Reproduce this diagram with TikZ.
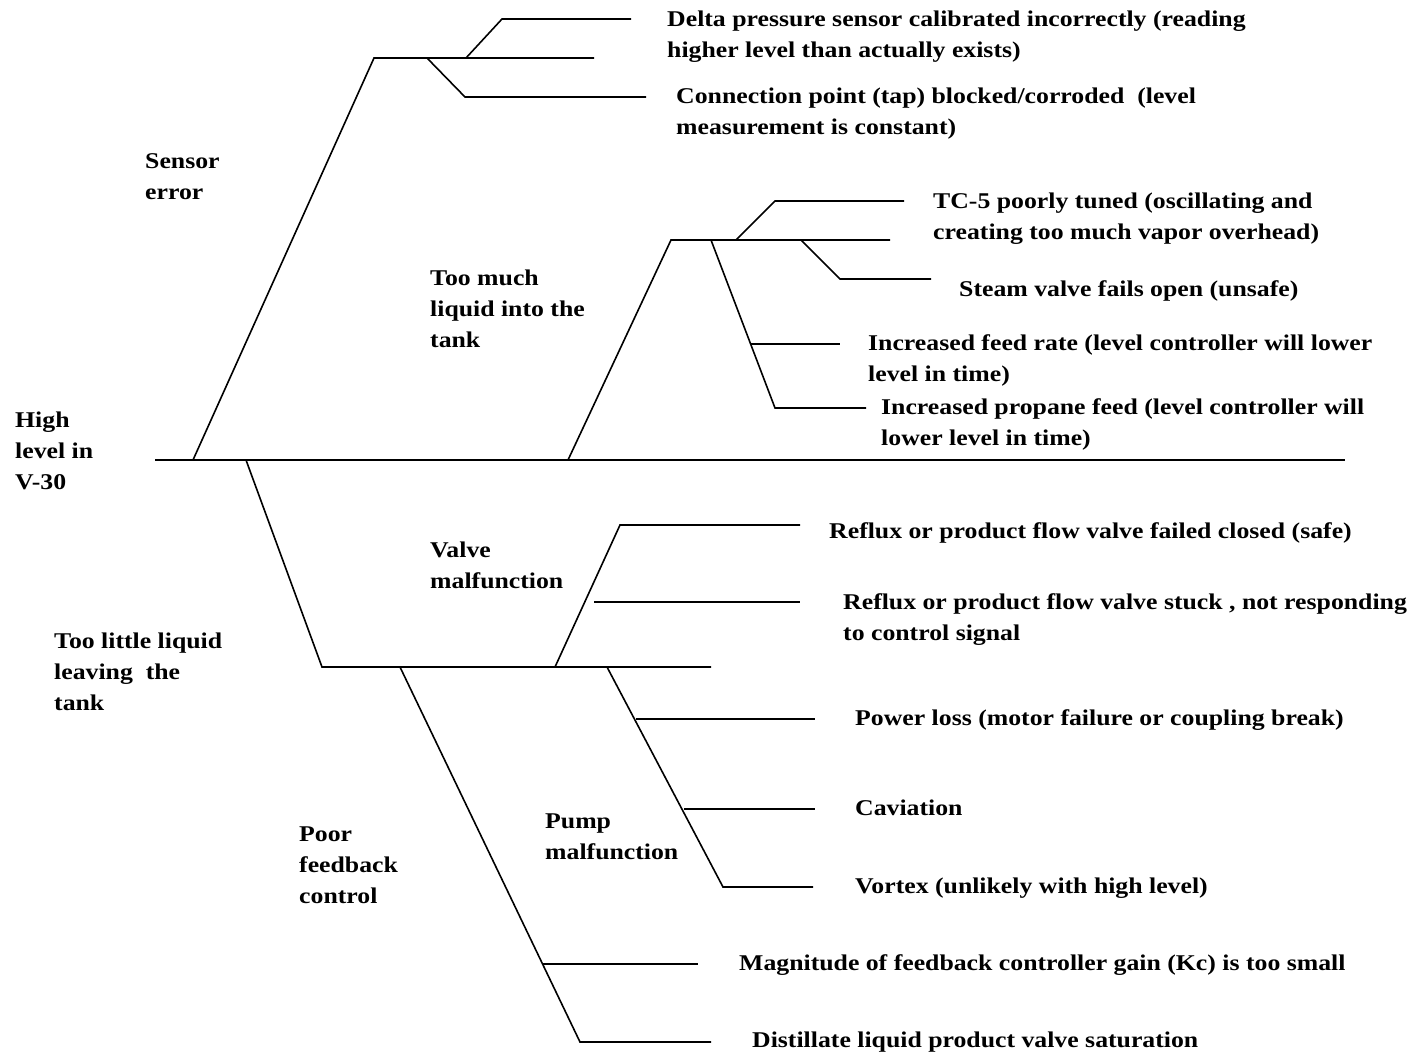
\documentclass[tikz,border=0pt]{standalone}
\usepackage{fontspec}
\setmainfont{Liberation Serif}[FakeStretch=1.145]
\tikzset{
  bone/.style={line width=1.6pt},
  cause/.style={anchor=base west, inner sep=0pt, align=left,
    font=\fontsize{22.5}{31}\selectfont\bfseries}
}
\begin{document}
\begin{tikzpicture}[x=1pt,y=-1pt]
\useasboundingbox (0,0) rectangle (1420,1054);
% spine
\draw[bone] (155,460) -- (1345,460);
% sensor error
\draw[bone] (193,460) -- (374,58) -- (594,58);
\draw[bone] (466,58) -- (502,19) -- (631,19);
\draw[bone] (427,58) -- (465,97) -- (646,97);
% too much liquid
\draw[bone] (568,460) -- (671,240) -- (890,240);
\draw[bone] (736,240) -- (775,201) -- (904,201);
\draw[bone] (801,240) -- (840,279) -- (931,279);
\draw[bone] (711,240) -- (775,408) -- (866,408);
\draw[bone] (750,344) -- (840,344);
% too little liquid
\draw[bone] (246,460) -- (322,667) -- (711,667);
\draw[bone] (555,667) -- (620,525) -- (800,525);
\draw[bone] (594,602) -- (800,602);
\draw[bone] (607,667) -- (723,887) -- (813,887);
\draw[bone] (636,719) -- (815,719);
\draw[bone] (684,809) -- (815,809);
\draw[bone] (400,667) -- (580,1042) -- (711,1042);
\draw[bone] (543,964) -- (698,964);
% labels (placed at the baseline of their last line)
\node[cause] (top) at (15,489) {High\\level in\\V-30};
\node[cause] (sens) at (145,199) {Sensor\\error};
\node[cause] (much) at (430,347) {Too much\\liquid into the\\tank};
\node[cause] (little) at (54,710) {Too little liquid\\leaving\ \ the\\tank};
\node[cause] (valve) at (430,588) {Valve\\malfunction};
\node[cause] (pump) at (545,859) {Pump\\malfunction};
\node[cause] (fb) at (299,903) {Poor\\feedback\\control};
\node[cause] (delta) at (667,58) {Delta pressure sensor calibrated incorrectly (reading\\higher level than actually exists)};
\node[cause] (tap) at (676,135) {Connection point (tap) blocked/corroded\ \ (level\\measurement is constant)};
\node[cause] (tune) at (933,239) {TC-5 poorly tuned (oscillating and\\creating too much vapor overhead)};
\node[cause] (steam) at (959,296) {Steam valve fails open (unsafe)};
\node[cause] (feed) at (868,381) {Increased feed rate (level controller will lower\\level in time)};
\node[cause] (prop) at (881,445) {Increased propane feed (level controller will\\lower level in time)};
\node[cause] (closed) at (829,538) {Reflux or product flow valve failed closed (safe)};
\node[cause] (stuck) at (843,640) {Reflux or product flow valve stuck , not responding\\to control signal};
\node[cause] (power) at (855,725) {Power loss (motor failure or coupling break)};
\node[cause] (cav) at (855,815) {Caviation};
\node[cause] (vort) at (855,893) {Vortex (unlikely with high level)};
\node[cause] (gain) at (739,970) {Magnitude of feedback controller gain (Kc) is too small};
\node[cause] (sat) at (752,1047) {Distillate liquid product valve saturation};
\end{tikzpicture}
\end{document}
